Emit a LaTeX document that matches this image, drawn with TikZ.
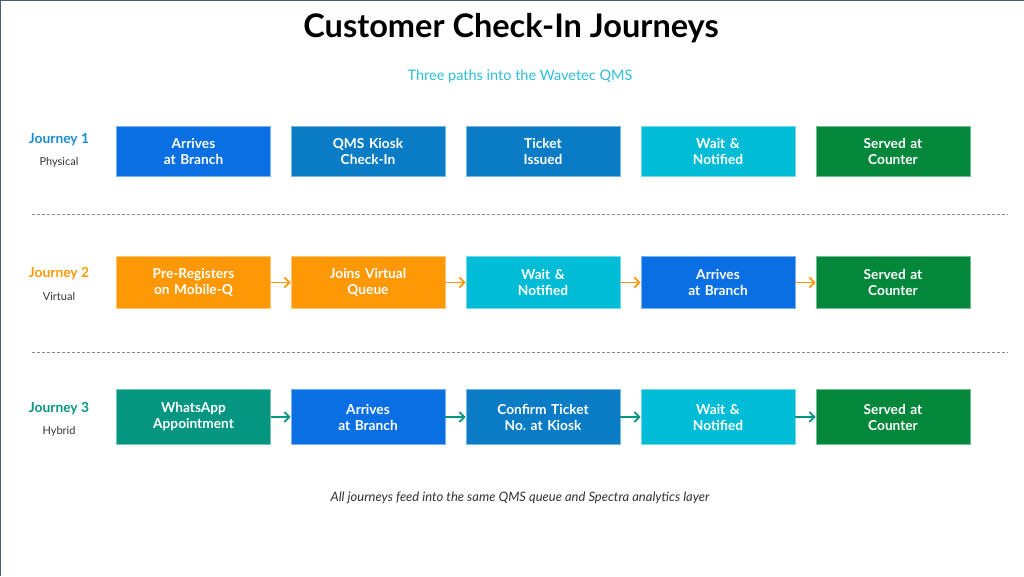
\documentclass[tikz,border=0pt]{standalone}
\usepackage{fontspec}
\setmainfont{Lato}
\usetikzlibrary{arrows.meta}
\definecolor{cBright}{HTML}{0A6FE3}
\definecolor{cMid}{HTML}{0A7CC6}
\definecolor{cCyan}{HTML}{00BCD6}
\definecolor{cGreen}{HTML}{03873A}
\definecolor{cOrange}{HTML}{FF9805}
\definecolor{cTeal}{HTML}{059682}
\definecolor{cJ1}{HTML}{1A8ED4}
\definecolor{cSub}{HTML}{2DBFDB}
\definecolor{cFrame}{HTML}{4A5A7C}
\definecolor{cDash}{HTML}{8A8A8A}
\definecolor{cText}{HTML}{333333}
\frenchspacing
\tikzset{
  stepbox/.style={rectangle, minimum width=154pt, text width=145pt, align=center,
    inner sep=0pt, font=\bfseries\fontsize{13.7}{16}\selectfont, text=white,
    line width=0.8pt},
  bright/.style={stepbox, fill=cBright, draw=cBright!55!white},
  mid/.style={stepbox, fill=cMid, draw=cMid!55!white},
  cyan/.style={stepbox, fill=cCyan, draw=cCyan!55!white},
  green/.style={stepbox, fill=cGreen, draw=cGreen!55!white},
  orange/.style={stepbox, fill=cOrange, draw=cOrange!55!white},
  teal/.style={stepbox, fill=cTeal, draw=cTeal!55!white},
  jname/.style={font=\bfseries\fontsize{13.8}{15}\selectfont, inner sep=0pt},
  jkind/.style={font=\fontsize{11}{13}\selectfont, text=cText, inner sep=0pt},
  conn/.style={line width=1.8pt, -{Straight Barb[length=5pt,width=10pt,line width=1.8pt]}},
  sep/.style={cDash, line width=0.7pt, dash pattern=on 3pt off 2pt}
}
\begin{document}
\begin{tikzpicture}[x=1pt,y=-1pt]
\useasboundingbox (0,0) rectangle (1024,576);
\fill[white] (0,0) rectangle (1024,576);
\draw[cFrame, line width=2pt] (0,576) -- (0,0) -- (1024,0);

\node[font=\bfseries\fontsize{32.5}{38}\selectfont, inner sep=0pt] (title) at (511,28) {Customer Check-In Journeys};
\node[font=\fontsize{14.5}{17}\selectfont, text=cSub, inner sep=0pt] (sub) at (520,76) {Three paths into the Wavetec QMS};

% Journey 1
\node[jname, text=cJ1] (j1) at (59,140) {Journey 1};
\node[jkind] (k1) at (59,162.5) {Physical};
\node[bright, minimum height=50pt] (a1) at (193.5,151.5) {Arrives\\at Branch};
\node[mid, minimum height=50pt] (a2) at (368,151.5) {QMS Kiosk\\Check-In};
\node[mid, minimum height=50pt] (a3) at (543,151.5) {Ticket\\Issued};
\node[cyan, minimum height=50pt] (a4) at (718,151.5) {Wait \&\\Notified};
\node[green, minimum height=50pt] (a5) at (893,151.5) {Served at\\Counter};

\coordinate (s1l) at (32,214.5);
\coordinate (s1r) at (1008,214.5);
\draw[sep] (s1l) -- (s1r);

% Journey 2
\node[jname, text=cOrange] (j2) at (59,274) {Journey 2};
\node[jkind] (k2) at (59,296.5) {Virtual};
\node[orange, minimum height=51.5pt] (b1) at (193.5,282.5) {Pre-Registers\\on Mobile-Q};
\node[orange, minimum height=51.5pt] (b2) at (368,282.5) {Joins Virtual\\Queue};
\node[cyan, minimum height=51.5pt] (b3) at (543,282.5) {Wait \&\\Notified};
\node[bright, minimum height=51.5pt] (b4) at (718,282.5) {Arrives\\at Branch};
\node[green, minimum height=51.5pt] (b5) at (893,282.5) {Served at\\Counter};
\foreach \p/\q in {b1/b2,b2/b3,b3/b4,b4/b5}
  \draw[conn, cOrange] (\p.east) -- (\q.west);

\coordinate (s2l) at (32,352.5);
\coordinate (s2r) at (1008,352.5);
\draw[sep] (s2l) -- (s2r);

% Journey 3
\node[jname, text=cTeal] (j3) at (59,409) {Journey 3};
\node[jkind] (k3) at (59,431.5) {Hybrid};
\node[teal, minimum height=55pt] (c1) at (193.5,417) {WhatsApp\\Appointment};
\node[bright, minimum height=55pt] (c2) at (368,417) {Arrives\\at Branch};
\node[mid, minimum height=55pt] (c3) at (543,417) {Confirm Ticket\\No. at Kiosk};
\node[cyan, minimum height=55pt] (c4) at (718,417) {Wait \&\\Notified};
\node[green, minimum height=55pt] (c5) at (893,417) {Served at\\Counter};
\foreach \p/\q in {c1/c2,c2/c3,c3/c4,c4/c5}
  \draw[conn, cTeal] (\p.east) -- (\q.west);

\node[font=\itshape\fontsize{13}{15}\selectfont, text=cText, inner sep=0pt] (foot) at (520,498) {All journeys feed into the same QMS queue and Spectra analytics layer};
\end{tikzpicture}
\end{document}
